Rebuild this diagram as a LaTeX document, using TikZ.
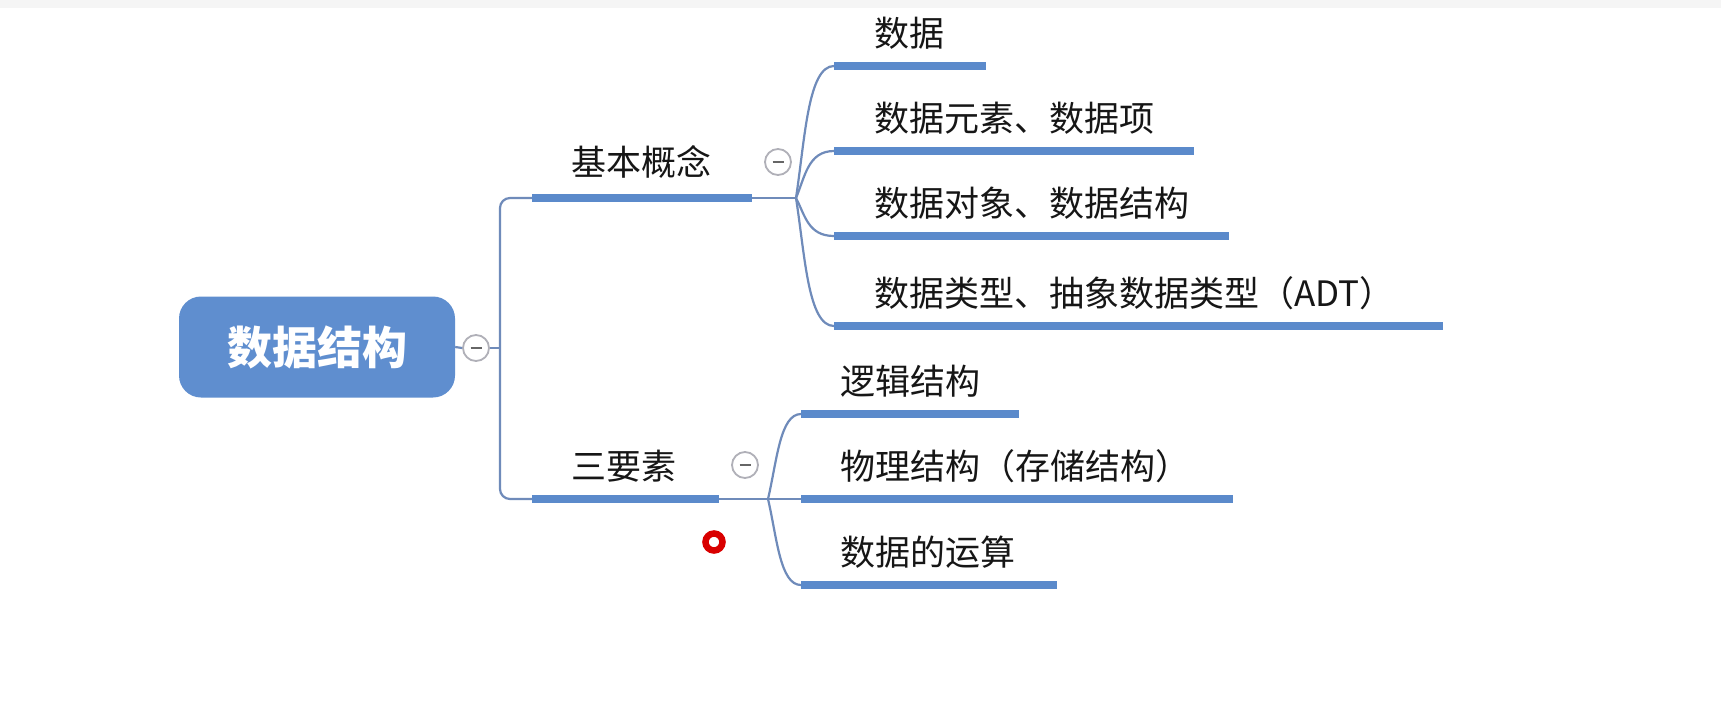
\documentclass[tikz,border=0pt]{standalone}
\usepackage{fontspec}
\setmainfont{Noto Sans CJK SC}
\usetikzlibrary{calc}
\definecolor{barblue}{HTML}{5B8ACB}
\definecolor{linkblue}{HTML}{6F8BBA}
\definecolor{rootblue}{HTML}{5F8ECF}
\definecolor{txt}{HTML}{161616}
\definecolor{tgl}{HTML}{B0B0B8}
\begin{document}
\begin{tikzpicture}[x=1pt,y=-1pt,
  bar/.style={line width=7.5pt, draw=barblue},
  link/.style={line width=2.2pt, draw=linkblue},
  root/.style={rounded corners=22pt, fill=rootblue, minimum width=276pt, minimum height=101pt,
    text=white, font=\fontsize{45}{45}\selectfont\bfseries, inner sep=0pt},
  toggle/.style={circle, draw=tgl, line width=1.8pt, fill=white, minimum size=26pt, inner sep=0pt,
    path picture={\draw[black!60, line width=1.8pt] ($(path picture bounding box.center)+(-5.5,0)$) -- ($(path picture bounding box.center)+(5.5,0)$);}},
  lbl/.style={anchor=west, font=\fontsize{35}{35}\selectfont, text=txt, inner sep=0pt},
  cursor/.style={circle, draw=red!85!black, line width=6.5pt, fill=white, minimum size=17pt, inner sep=0pt},
]
\useasboundingbox (0,0) rectangle (1721,705);
\fill[white] (0,0) rectangle (1721,705);
\fill[black!4] (0,0) rectangle (1721,8);

% root
\node[root] (root) at (317,347) {数据结构};
\node[toggle] (t0) at (476,348) {};
\coordinate (trunk) at (500,348);
\draw[link] (root.east) -- (t0.west);
\draw[link] (t0.east) -- (trunk);

% level 1 bars
\coordinate (b1s) at (532,198); \coordinate (b1e) at (752,198);
\coordinate (b2s) at (532,499); \coordinate (b2e) at (719,499);
\draw[link, rounded corners=10pt] (b1s) -- (500,198) -- (500,499) -- (b2s);
\draw[bar] (b1s) -- (b1e);
\draw[bar] (b2s) -- (b2e);
\node[lbl] (l1) at (571,162) {基本概念};
\node[lbl] (l2) at (571,466) {三要素};
\node[toggle] (t1) at (778,162) {};
\node[toggle] (t2) at (745,465) {};

% upper fork
\coordinate (f1) at (796,198);
\draw[link] (b1e) -- (f1);
\foreach \n/\y/\e/\t in {a/66/986/数据, b/151/1194/数据元素、数据项, c/236/1229/数据对象、数据结构, d/326/1443/数据类型、抽象数据类型（ADT）}{
  \coordinate (c\n s) at (834,\y);
  \coordinate (c\n e) at (\e,\y);
  \draw[link] (f1) .. controls ($(f1)!.45!(f1|-c\n s)+(9,0)$) and ($(f1|-c\n s)+(12,0)$) .. (c\n s);
  \draw[bar] (c\n s) -- (c\n e);
  \node[lbl] (txt\n) at (874,\y-33) {\t};
}

% lower fork
\coordinate (f2) at (768,499);
\draw[link] (b2e) -- (f2);
\foreach \n/\y/\e/\t in {e/414/1019/逻辑结构, f/499/1233/物理结构（存储结构）, g/585/1057/数据的运算}{
  \coordinate (c\n s) at (801,\y);
  \coordinate (c\n e) at (\e,\y);
  \draw[link] (f2) .. controls ($(f2)!.45!(f2|-c\n s)+(9,0)$) and ($(f2|-c\n s)+(12,0)$) .. (c\n s);
  \draw[bar] (c\n s) -- (c\n e);
  \node[lbl] (txt\n) at (840,\y-33) {\t};
}

% cursor marker
\node[cursor] (cur) at (714,542) {};
\end{tikzpicture}
\end{document}
